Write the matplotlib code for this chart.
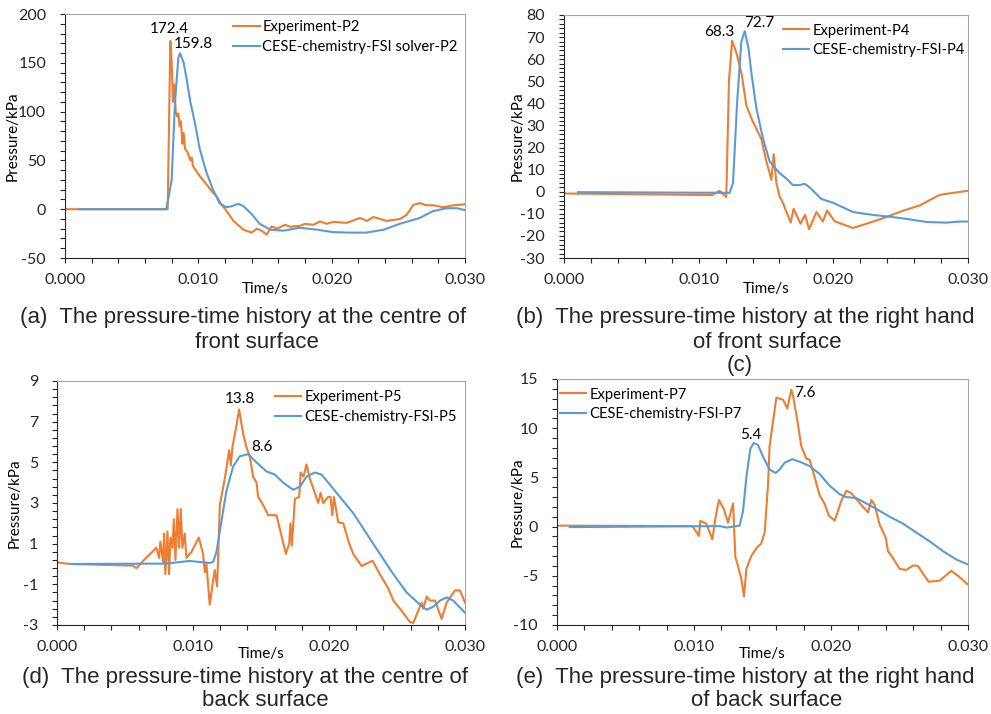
import numpy as np
import matplotlib
matplotlib.use("Agg")
import matplotlib.pyplot as plt
from matplotlib.ticker import MultipleLocator, FixedLocator, FormatStrFormatter

plt.rcParams['font.family'] = ['Lato', 'DejaVu Sans']

naranja = '#ED7D31'
azul = '#5B9BD5'

#----Datos (a) P2----#
t_a_exp = [0.0, 0.0077, 0.0079, 0.0080, 0.0081, 0.0082, 0.0083, 0.0084, 0.0085, 0.0086,
           0.0087, 0.0088, 0.0089, 0.0090, 0.0092, 0.0094, 0.0095, 0.0096, 0.0098, 0.0101,
           0.0104, 0.01075, 0.0111, 0.01138, 0.01175, 0.01213, 0.01263, 0.01338, 0.0140, 0.01438,
           0.01475, 0.01513, 0.0155, 0.01588, 0.0165, 0.01688, 0.01763, 0.0180, 0.01863, 0.01913,
           0.01963, 0.02013, 0.02113, 0.02213, 0.02263, 0.02313, 0.02363, 0.02413, 0.02513, 0.02563,
           0.02613, 0.02663, 0.02713, 0.02763, 0.02838, 0.02913, 0.0300]
p_a_exp = [0, 0, 172.4, 150, 110, 128, 100, 95, 98, 85,
           90, 67, 78, 62, 58, 50, 53, 44, 40, 34,
           29, 23, 17, 13, 4.5, -2, -12, -21, -24, -20,
           -22, -26, -17.6, -20, -16, -18, -17, -15, -16, -12.5,
           -15, -13, -14, -9, -12, -8, -10, -12, -10, -5.7,
           4.5, 6.2, 4, 4, 2, 4, 5]
t_a_sim = [0.001, 0.0076, 0.0080, 0.00825, 0.0085, 0.00863, 0.0089, 0.0091, 0.0094, 0.00975,
           0.0101, 0.0106, 0.0111, 0.0116, 0.0121, 0.0125, 0.0130, 0.0134, 0.0140, 0.0146,
           0.0154, 0.0164, 0.0176, 0.0189, 0.0201, 0.0214, 0.0226, 0.0239, 0.0251, 0.0266,
           0.0276, 0.0286, 0.0294, 0.0300]
p_a_sim = [0, 0, 30, 110, 155, 159.8, 150, 135, 110, 88,
           62, 38, 20, 6, 2, 3, 5.5, 3, -5, -15,
           -21, -22, -19, -21, -23.5, -24, -24, -21, -15, -9,
           -2, 1, 1, -1]

#----Datos (b) P4----#
t_b_exp = [0.0, 0.011, 0.01156, 0.0118, 0.01205, 0.01225, 0.01248, 0.0128, 0.0132, 0.01354,
           0.0140, 0.01465, 0.0150, 0.0154, 0.01557, 0.01577, 0.0160, 0.01625, 0.01683, 0.01705,
           0.01757, 0.0179, 0.0182, 0.01874, 0.01923, 0.01953, 0.0201, 0.02146, 0.02245, 0.02369,
           0.02517, 0.02641, 0.0279, 0.02889, 0.0300]
p_b_exp = [-0.8, -1.5, 0.4, -1, -2.4, 50, 68.3, 63, 53, 39,
           32, 24, 14.5, 5.4, 17, 4, -2, -5, -14, -7.7,
           -14.5, -10.4, -17, -9.2, -13.5, -8.5, -13.4, -16.4, -14.5, -12,
           -8.6, -6.2, -1.4, -0.5, 0.4]
t_b_sim = [0.00104, 0.0123, 0.01255, 0.01285, 0.01317, 0.01342, 0.0137, 0.01391, 0.01428, 0.01478,
           0.01527, 0.01601, 0.01651, 0.0170, 0.0175, 0.01787, 0.01824, 0.01911, 0.01998, 0.02146,
           0.02295, 0.02443, 0.02567, 0.02691, 0.02839, 0.02938, 0.0300]
p_b_sim = [-0.2, -0.5, 4, 40, 68, 72.7, 65, 54, 38, 24,
           13.7, 8.4, 6, 3, 3, 3.6, 2, -3.3, -5, -9.2,
           -10.5, -11.5, -12.5, -13.7, -14, -13.5, -13.5]

#----Datos (d) P5----#
t_d_exp = [0.0, 0.00093, 0.00559, 0.00584, 0.00633, 0.00731, 0.00751, 0.0076, 0.0078, 0.00787,
           0.00797, 0.00812, 0.00824, 0.00834, 0.00849, 0.00859, 0.00871, 0.00886, 0.00898, 0.0091,
           0.00922, 0.00939, 0.00952, 0.00989, 0.01043, 0.01074, 0.01087, 0.01099, 0.01123, 0.01148,
           0.0116, 0.01177, 0.01185, 0.01197, 0.01234, 0.01266, 0.01278, 0.0129, 0.01315, 0.01339,
           0.01369, 0.01393, 0.01418, 0.01442, 0.01467, 0.01479, 0.01516, 0.01553, 0.01614, 0.01683,
           0.01707, 0.01717, 0.01727, 0.01749, 0.01781, 0.01791, 0.01812, 0.01835, 0.01859, 0.01896,
           0.01921, 0.01938, 0.01957, 0.01994, 0.02011, 0.02024, 0.02036, 0.02068, 0.02105, 0.02149,
           0.02178, 0.0224, 0.0232, 0.02374, 0.02436, 0.02473, 0.02522, 0.02595, 0.0262, 0.02644,
           0.02681, 0.02693, 0.02718, 0.02742, 0.02779, 0.02828, 0.02865, 0.02926, 0.02963, 0.0300]
p_d_exp = [0.08, 0.0, -0.08, -0.21, 0.15, 0.8, 0.3, 1.1, 0.1, 1.5,
           -0.5, 1.6, -0.5, 1.3, 0.8, 2.2, 0.2, 2.7, 0.8, 2.7,
           0.8, 1.5, 0.3, 0.6, 1.3, 0.5, -0.4, 0.0, -2.0, -0.8,
           -0.3, -1.1, 0.3, 2.9, 4.2, 5.6, 4.85, 5.75, 6.65, 7.6,
           6.4, 5.75, 5.26, 4.3, 4.0, 3.3, 2.9, 2.4, 2.4, 0.5,
           1.0, 2.0, 0.9, 3.2, 3.3, 4.5, 4.3, 4.9, 4.2, 3.5,
           3.0, 3.5, 3.0, 3.3, 3.3, 2.4, 3.3, 2.05, 2.0, 1.0,
           0.5, -0.1, 0.16, -0.5, -1.2, -1.8, -2.2, -2.85, -2.9, -2.5,
           -1.9, -2.2, -1.6, -1.8, -1.8, -2.7, -1.9, -1.3, -1.3, -1.9]
t_d_sim = [0.00093, 0.0080, 0.00976, 0.01123, 0.01148, 0.01173, 0.01209, 0.01246, 0.01295, 0.01344,
           0.01406, 0.01467, 0.0154, 0.01602, 0.01663, 0.01737, 0.01786, 0.01835, 0.01896, 0.01945,
           0.02007, 0.0208, 0.02178, 0.02276, 0.02374, 0.02473, 0.02571, 0.02669, 0.02718, 0.02767,
           0.02816, 0.02865, 0.02914, 0.0300]
p_d_sim = [0.0, 0.02, 0.15, 0.05, 0.1, 0.6, 2.1, 3.6, 4.8, 5.3,
           5.4, 5.0, 4.55, 4.4, 4.0, 3.65, 3.8, 4.3, 4.5, 4.4,
           3.9, 3.3, 2.5, 1.5, 0.5, -0.5, -1.4, -2.0, -2.25, -2.1,
           -1.8, -1.64, -1.8, -2.4]

#----Datos (e) P7----#
t_e_exp = [0.0, 0.00988, 0.01036, 0.01046, 0.0109, 0.01134, 0.01158, 0.01182, 0.01217, 0.01248,
           0.01285, 0.01302, 0.01321, 0.01345, 0.01365, 0.01382, 0.01418, 0.01455, 0.01491, 0.01516,
           0.0154, 0.01552, 0.01564, 0.01601, 0.0165, 0.01681, 0.0171, 0.01723, 0.01754, 0.01783,
           0.0182, 0.01844, 0.01881, 0.01917, 0.01954, 0.01985, 0.02027, 0.02075, 0.02112, 0.02148,
           0.02197, 0.02234, 0.0227, 0.02294, 0.02319, 0.02355, 0.02399, 0.02416, 0.02453, 0.02501,
           0.0255, 0.02599, 0.02635, 0.02672, 0.02713, 0.02793, 0.02878, 0.02927, 0.0300]
p_e_exp = [0.1, 0.05, -0.95, 0.58, 0.3, -1.3, 1.0, 2.7, 1.8, 0.4,
           2.35, -3.1, -4.0, -5.3, -7.1, -4.3, -3.0, -2.2, -1.7, -0.6,
           4.2, 8.2, 9.4, 13.1, 12.9, 12.0, 13.9, 13.3, 10.8, 8.2,
           6.9, 6.8, 5.0, 3.2, 2.3, 1.1, 0.6, 2.6, 3.65, 3.4,
           2.6, 2.0, 1.45, 2.7, 2.2, 0.2, -1.1, -2.5, -3.2, -4.3,
           -4.4, -3.95, -4.0, -4.8, -5.6, -5.5, -4.5, -5.0, -5.9]
t_e_sim = [0.00092, 0.01187, 0.0124, 0.01333, 0.01358, 0.01382, 0.01411, 0.01436, 0.01467, 0.01504,
           0.01552, 0.01596, 0.01625, 0.01662, 0.01718, 0.01771, 0.01844, 0.01917, 0.0199, 0.02063,
           0.02112, 0.02185, 0.02258, 0.02331, 0.02428, 0.02526, 0.02623, 0.0272, 0.02818, 0.02915,
           0.0300]
p_e_sim = [-0.05, 0.05, -0.1, 0.1, 1.6, 5.0, 7.9, 8.5, 8.3, 7.1,
           5.8, 5.45, 5.8, 6.5, 6.85, 6.6, 6.15, 5.35, 4.15, 3.3,
           3.0, 2.9, 2.35, 1.8, 1.0, 0.3, -0.6, -1.5, -2.5, -3.35,
           -3.85]

fig = plt.figure(figsize=(9.91, 7.14), dpi=100)
W, H = 991.0, 714.0

def caja(izq, arriba, der, abajo):
    # posicion de los ejes en pixeles
    return fig.add_axes([izq / W, 1 - abajo / H, (der - izq) / W, (abajo - arriba) / H])

def preparar(ax, ylim, ymayor, ymenor, xlab_y, ylab_x):
    ax.set_xlim(0, 0.030)
    ax.set_ylim(*ylim)
    ax.xaxis.set_major_locator(MultipleLocator(0.010))
    ax.xaxis.set_minor_locator(MultipleLocator(0.002))
    ax.xaxis.set_major_formatter(FormatStrFormatter('%.3f'))
    # ticks desde el minimo del eje (en (d) empieza en -3)
    ax.yaxis.set_major_locator(FixedLocator(np.arange(ylim[0], ylim[1] + ymayor / 2, ymayor)))
    ax.yaxis.set_minor_locator(FixedLocator(np.arange(ylim[0], ylim[1] + ymenor / 2, ymenor)))
    ax.yaxis.set_major_formatter(FormatStrFormatter('%d'))
    ax.tick_params(axis='both', which='both', direction='out', length=3.6, width=0.8,
                   colors='#262626', labelsize=11.5)
    ax.tick_params(axis='x', pad=7)
    ax.tick_params(axis='y', pad=10)
    ax.tick_params(axis='x', which='both', top=False)
    ax.tick_params(axis='y', which='both', right=False)
    for s in ['left', 'bottom']:
        ax.spines[s].set_color('#262626')
    for s in ['top', 'right']:
        ax.spines[s].set_color('#a6a6a6')
    ax.set_xlabel('Time/s', fontsize=11, va='center')
    ax.xaxis.set_label_coords(0.5, xlab_y)
    ax.set_ylabel('Pressure/kPa', fontsize=11, va='center')
    ax.yaxis.set_label_coords(ylab_x, 0.5)

def leyenda(ax, x, y):
    ax.legend(loc='upper left', bbox_to_anchor=(x, y), frameon=False, fontsize=10.6,
              borderpad=0, borderaxespad=0, handlelength=1.8, handletextpad=0.2,
              labelspacing=0.4)

# (a)
ax1 = caja(65, 14, 465, 258)
ax1.plot(t_a_exp, p_a_exp, color=naranja, lw=1.5, label='Experiment-P2')
ax1.plot(t_a_sim, p_a_sim, color=azul, lw=1.5, label='CESE-chemistry-FSI solver-P2')
preparar(ax1, (-50, 200), 50, 10, -0.127, -0.13)
leyenda(ax1, 0.42, 0.975)
ax1.text(0.0078, 184.6, '172.4', ha='center', va='center', fontsize=11)
ax1.text(0.0096, 169.3, '159.8', ha='center', va='center', fontsize=11)

# (b)
ax2 = caja(564, 15, 968, 258)
ax2.plot(t_b_exp, p_b_exp, color=naranja, lw=1.5, label='Experiment-P4')
ax2.plot(t_b_sim, p_b_sim, color=azul, lw=1.5, label='CESE-chemistry-FSI-P4')
preparar(ax2, (-30, 80), 10, 2, -0.128, -0.116)
leyenda(ax2, 0.542, 0.965)
ax2.text(0.01151, 72.3, '68.3', ha='center', va='center', fontsize=11)
ax2.text(0.01448, 76.4, '72.7', ha='center', va='center', fontsize=11)

# (d)
ax3 = caja(57, 381, 465, 625)
ax3.plot(t_d_exp, p_d_exp, color=naranja, lw=1.5, label='Experiment-P5')
ax3.plot(t_d_sim, p_d_sim, color=azul, lw=1.5, label='CESE-chemistry-FSI-P5')
preparar(ax3, (-3, 9), 2, 0.4, -0.119, -0.103)
leyenda(ax3, 0.534, 0.962)
ax3.text(0.01346, 8.11, '13.8', ha='center', va='center', fontsize=11)
ax3.text(0.01507, 5.75, '8.6', ha='center', va='center', fontsize=11)

# (e)
ax4 = caja(557, 379, 968, 625)
ax4.plot(t_e_exp, p_e_exp, color=naranja, lw=1.5, label='Experiment-P7')
ax4.plot(t_e_sim, p_e_sim, color=azul, lw=1.5, label='CESE-chemistry-FSI-P7')
preparar(ax4, (-10, 15), 5, 1, -0.118, -0.095)
leyenda(ax4, 0.007, 0.965)
ax4.text(0.0181, 13.58, '7.6', ha='center', va='center', fontsize=11)
ax4.text(0.01416, 9.31, '5.4', ha='center', va='center', fontsize=11)

# pies de figura
fuente_pie = ['Liberation Sans', 'DejaVu Sans']
def pie(x, y, texto, ha='left'):
    fig.text(x / W, 1 - y / H, texto, ha=ha, va='center', fontsize=16,
             family=fuente_pie, color='#262626')

pie(20, 318, '(a)  The pressure-time history at the centre of')
pie(257, 342, 'front surface', ha='center')
pie(516, 318, '(b)  The pressure-time history at the right hand')
pie(767, 342, 'of front surface', ha='center')
pie(740, 366, '(c)', ha='center')
pie(22, 677, '(d)  The pressure-time history at the centre of')
pie(265, 701, 'back surface', ha='center')
pie(516, 677, '(e)  The pressure-time history at the right hand')
pie(767, 701, 'of back surface', ha='center')

fig.savefig('out.png', dpi=100)
